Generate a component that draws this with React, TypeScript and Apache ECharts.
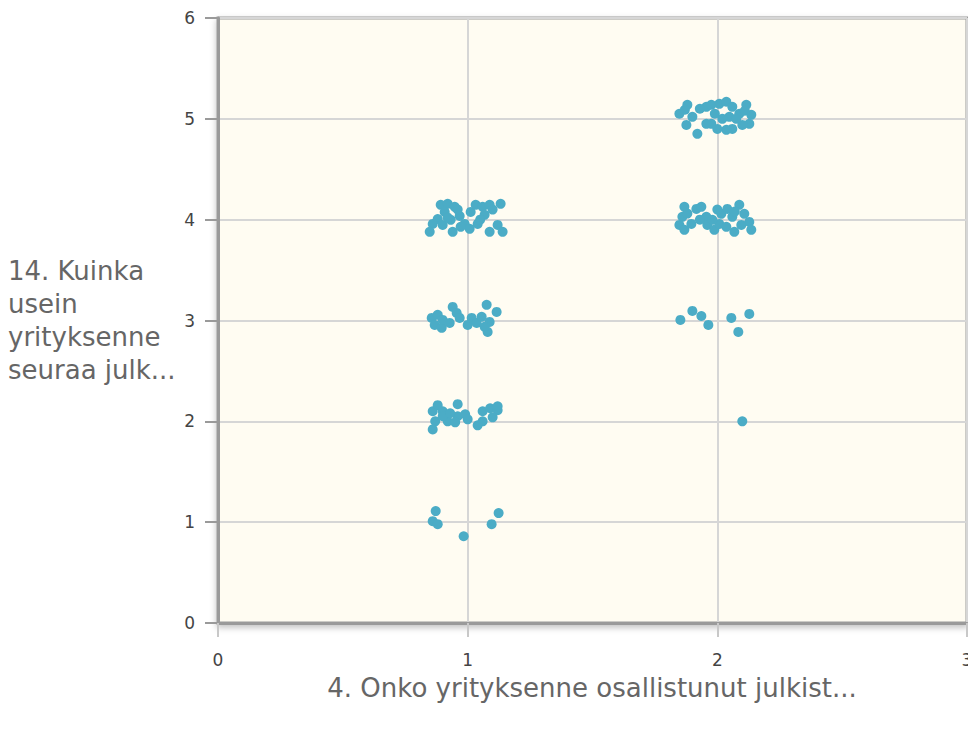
import React, { useEffect, useRef } from "react";
import * as echarts from "echarts";

const xTicks = [0, 1, 2, 3];
const yTicks = [0, 1, 2, 3, 4, 5, 6];
const yTitleLines = ["14. Kuinka", "usein", "yrityksenne", "seuraa julk..."];
const xTitle = "4. Onko yrityksenne osallistunut julkist...";

const cluster1_1 = [
  [0.872, 1.11], [0.86, 1.01], [0.88, 0.98], [0.984, 0.86], [1.096, 0.98], [1.124, 1.09],
];
const cluster1_2 = [
  [0.86, 2.1], [0.88, 2.16], [0.9, 2.1], [0.87, 2.0], [0.86, 1.92], [0.92, 2.0], [0.96, 2.17],
  [0.96, 2.05], [0.95, 1.99], [0.99, 2.07], [1.0, 2.02], [1.06, 2.1], [1.06, 2.0], [1.09, 2.13],
  [1.12, 2.11], [1.12, 2.15], [0.9, 2.05], [0.93, 2.08], [1.04, 1.96], [1.1, 2.04],
];
const cluster1_3 = [
  [0.856, 3.026], [0.88, 3.056], [0.868, 2.956], [0.896, 2.927], [0.9, 3.006], [0.928, 2.976],
  [0.94, 3.135], [0.956, 3.075], [0.968, 3.026], [1.0, 2.956], [1.016, 3.026], [1.036, 2.976],
  [1.056, 3.036], [1.076, 3.155], [1.088, 2.986], [1.08, 2.887], [1.116, 3.085], [1.068, 2.937],
];
const cluster1_4 = [
  [0.892, 4.147], [0.92, 4.157], [0.948, 4.127], [0.908, 4.077], [0.88, 4.007], [0.86, 3.958],
  [0.848, 3.879], [0.9, 3.948], [0.94, 3.879], [0.968, 4.036], [0.988, 3.958], [1.012, 4.077],
  [1.032, 4.147], [1.06, 4.127], [1.088, 4.147], [1.132, 4.157], [1.068, 4.048], [1.04, 3.958],
  [1.008, 3.909], [1.088, 3.879], [1.12, 3.948], [1.14, 3.879], [0.972, 3.929], [0.932, 3.998],
  [0.92, 4.02], [0.96, 4.1], [1.05, 4.0], [1.1, 4.1],
];
const cluster2_2 = [[2.1, 2.0]];
const cluster2_3 = [
  [1.852, 3.006], [1.9, 3.095], [1.936, 3.045], [1.964, 2.956], [2.056, 3.026], [2.084, 2.887],
  [2.128, 3.065],
];
const cluster2_4 = [
  [1.868, 4.127], [1.86, 4.028], [1.848, 3.948], [1.868, 3.899], [1.896, 3.958], [1.916, 4.107],
  [1.936, 4.127], [1.956, 4.028], [1.96, 3.948], [1.988, 3.899], [2.008, 3.958], [2.016, 4.058],
  [2.04, 4.107], [2.06, 4.028], [2.068, 3.879], [2.088, 4.147], [2.108, 4.058], [2.128, 3.978],
  [2.136, 3.899], [2.096, 3.948], [2.036, 3.929], [1.98, 3.998], [1.88, 4.06], [1.93, 4.0],
  [2.0, 4.1], [2.07, 4.08],
];
const cluster2_5 = [
  [1.848, 5.05], [1.88, 5.139], [1.9, 5.02], [1.876, 4.94], [1.92, 4.851], [1.956, 5.119],
  [1.976, 5.139], [2.008, 5.149], [2.036, 5.169], [2.06, 5.119], [2.088, 5.05], [2.116, 5.139],
  [2.136, 5.04], [2.128, 4.95], [2.1, 4.94], [2.06, 4.9], [2.036, 4.891], [2.0, 4.9],
  [1.976, 4.95], [1.956, 4.95], [2.048, 5.02], [2.076, 5.0], [1.99, 5.05], [2.02, 5.0],
  [1.93, 5.1], [2.11, 5.08], [1.87, 5.09],
];

const points = [
  ...cluster1_1, ...cluster1_2, ...cluster1_3, ...cluster1_4,
  ...cluster2_2, ...cluster2_3, ...cluster2_4, ...cluster2_5,
];

export default function App() {
  const ref = useRef<HTMLDivElement>(null);
  useEffect(() => {
    if (!ref.current) return;
    const chart = echarts.init(ref.current, null, { renderer: "svg" });
    const labelFont = "'DejaVu Sans', sans-serif";
    chart.setOption({
      animation: false,
      grid: {
        left: 218,
        top: 18,
        right: 1,
        bottom: 108,
        outerBoundsMode: "none",
        containLabel: false,
        show: true,
        backgroundColor: "#FFFCF2",
        borderColor: "#9a9a9a",
        borderWidth: 3,
        shadowColor: "rgba(0,0,0,0.25)",
        shadowBlur: 6,
        shadowOffsetY: 3,
      },
      xAxis: {
        type: "value",
        min: xTicks[0],
        max: xTicks[xTicks.length - 1],
        interval: 1,
        axisLine: { show: true, lineStyle: { color: "#9a9a9a", width: 3 } },
        axisTick: { show: true, length: 14, lineStyle: { color: "#c8c8c8", width: 2 } },
        axisLabel: { color: "#444", fontSize: 17, margin: 28, fontFamily: labelFont },
        splitLine: { show: true, lineStyle: { color: "#d6d6d6", width: 2 } },
      },
      yAxis: {
        type: "value",
        min: yTicks[0],
        max: yTicks[yTicks.length - 1],
        interval: 1,
        axisLine: { show: true, lineStyle: { color: "#9a9a9a", width: 3 } },
        axisTick: { show: true, length: 13, lineStyle: { color: "#9a9a9a", width: 2 } },
        axisLabel: { color: "#444", fontSize: 17, margin: 23, fontFamily: labelFont },
        splitLine: { show: true, lineStyle: { color: "#d6d6d6", width: 2 } },
      },
      graphic: [
        {
          type: "text",
          left: 8,
          top: 254,
          style: {
            text: yTitleLines.join("\n"),
            fill: "#666",
            fontSize: 26,
            lineHeight: 33,
            fontFamily: labelFont,
          },
        },
        {
          type: "text",
          x: 592,
          y: 688,
          style: {
            text: xTitle,
            fill: "#666",
            fontSize: 26,
            align: "center",
            verticalAlign: "middle",
            fontFamily: labelFont,
          },
        },
      ],
      series: [
        {
          type: "scatter",
          data: points,
          symbolSize: 10,
          itemStyle: { color: "#4BACC6", opacity: 1 },
        },
      ],
    });
    return () => chart.dispose();
  }, []);
  return <div ref={ref} style={{ width: 968, height: 731, position: "absolute", left: 0, top: 0 }} />;
}
